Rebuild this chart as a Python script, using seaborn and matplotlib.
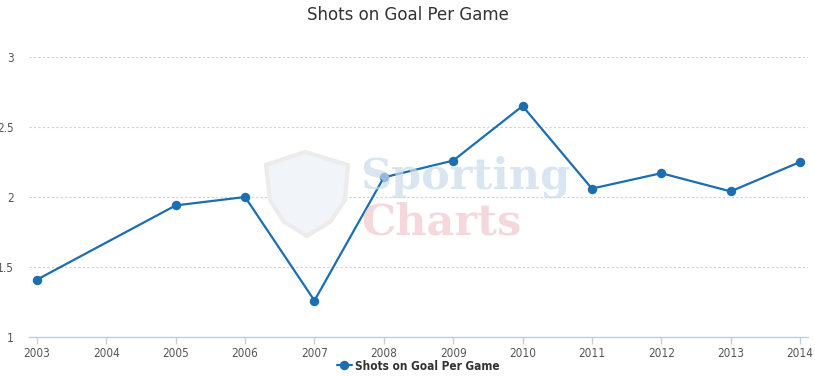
import matplotlib
matplotlib.use("Agg")
import matplotlib.pyplot as plt
from matplotlib.patches import Polygon
import seaborn as sns
import pandas as pd

years = [2003, 2005, 2006, 2007, 2008, 2009, 2010, 2011, 2012, 2013, 2014]
shots = [1.41, 1.94, 2.00, 1.26, 2.14, 2.26, 2.65, 2.06, 2.17, 2.04, 2.25]
x_ticks = list(range(2003, 2015))
y_ticks = [1, 1.5, 2, 2.5, 3]
y_labels = ["1", "1.5", "2", "2.5", "3"]
series_name = "Shots on Goal Per Game"
title = "Shots on Goal Per Game"

sns.set_theme(style="white")
plt.rcParams['font.family'] = ['DejaVu Sans']

df = pd.DataFrame({"year": years, "value": shots})

W, H = 815, 376
fig = plt.figure(figsize=(W / 100, H / 100), dpi=100)
left, right, top, bottom = 29, 808, 57, 337
ax = fig.add_axes([left / W, (H - bottom) / H, (right - left) / W, (bottom - top) / H])

# faint watermark (shield + words)
shield = [(266, 165), (305, 152), (348, 165), (345, 200), (330, 222), (307, 236),
          (284, 222), (270, 200)]
fig.patches.append(Polygon([(x / W, 1 - y / H) for x, y in shield], closed=True,
                           transform=fig.transFigure, facecolor="#f1f4f8",
                           edgecolor="#ececec", linewidth=3, zorder=0))
fig.text(465 / W, 1 - 177 / H, "Sporting", fontsize=31, fontweight="bold", color="#c9dcec",
         alpha=0.7, ha="center", va="center", family=["DejaVu Serif"], zorder=0)
fig.text(441 / W, 1 - 222 / H, "Charts", fontsize=31, fontweight="bold", color="#f0c8cc",
         alpha=0.7, ha="center", va="center", family=["DejaVu Serif"], zorder=0)
ax.patch.set_alpha(0)

color = "#1c6eb0"
sns.lineplot(data=df, x="year", y="value", ax=ax, color=color, linewidth=1.6,
             marker="o", markersize=6.8, markeredgecolor=color, markeredgewidth=0,
             label=series_name, clip_on=False, zorder=5)

ax.set_xlim(2003 - 8 / 69.36, 2014 + 8 / 69.36)
ax.set_ylim(1, 3)

ax.set_yticks(y_ticks)
ax.set_yticklabels(y_labels)
ax.set_xticks(x_ticks)
ax.set_xticklabels([str(y) for y in x_ticks])

for v in y_ticks[1:]:
    ax.axhline(v, color="#d0d0d0", linewidth=0.8, linestyle=(0, (2, 2)), zorder=0)

for s in ["top", "right", "left"]:
    ax.spines[s].set_visible(False)
ax.spines["bottom"].set_color("#c0d0e0")
ax.spines["bottom"].set_linewidth(1)

ax.tick_params(axis="x", which="both", bottom=True, length=5, width=1, color="#c0d0e0",
               labelsize=8.5, labelcolor="#555555", pad=2)
ax.tick_params(axis="y", which="both", left=False, length=0, labelsize=8.5,
               labelcolor="#555555", pad=11)
for lbl in ax.get_xticklabels() + ax.get_yticklabels():
    lbl.set_fontstretch("condensed")

ax.set_xlabel("")
ax.set_ylabel("")

fig.text(0.5, 1 - 15 / H, title, ha="center", va="center", fontsize=12, color="#333333")

leg = ax.legend(loc="center", bbox_to_anchor=(0.5, -(366 - 337) / 280), frameon=False,
                handlelength=1.2, handletextpad=0.3,
                prop={"weight": "bold", "size": 8.5, "stretch": "condensed"})
for t in leg.get_texts():
    t.set_color("#333333")

fig.savefig("out.png", dpi=100)
